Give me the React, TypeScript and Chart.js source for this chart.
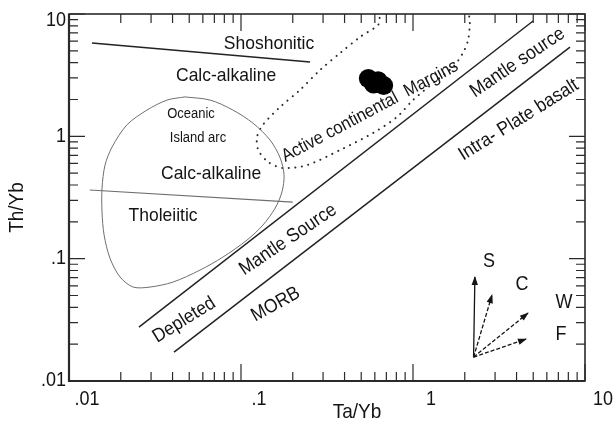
import React, { useEffect, useRef } from 'react';
import { Chart, registerables } from 'chart.js';

Chart.register(...registerables);

// ---- axes ----
const X_TICK_VALUES = [0.01, 0.1, 1, 10];
const X_TICK_LABELS = ['.01', '.1', '1', '10'];
const Y_TICK_VALUES = [0.01, 0.1, 1, 10];
const Y_TICK_LABELS = ['.01', '.1', '1', '10'];
const MINOR_MULTIPLIERS = [2, 3, 4, 5, 6, 7, 8, 9];

// ---- field boundaries (Ta/Yb, Th/Yb) ----
const shoshoniticBoundary = [
  { x: 0.0136, y: 5.79 },
  { x: 0.252, y: 4.05 },
];
const tholeiiticBoundary = [
  { x: 0.0132, y: 0.364 },
  { x: 0.2, y: 0.29 },
];
const oceanicArcField = [
  { x: 0.0472, y: 2.1 },
  { x: 0.0661, y: 1.98 },
  { x: 0.0897, y: 1.64 },
  { x: 0.1175, y: 1.28 },
  { x: 0.1476, y: 0.933 },
  { x: 0.169, y: 0.665 },
  { x: 0.178, y: 0.483 },
  { x: 0.173, y: 0.351 },
  { x: 0.158, y: 0.259 },
  { x: 0.134, y: 0.188 },
  { x: 0.1084, y: 0.142 },
  { x: 0.0785, y: 0.103 },
  { x: 0.0578, y: 0.0807 },
  { x: 0.0403, y: 0.0644 },
  { x: 0.0296, y: 0.0586 },
  { x: 0.0236, y: 0.0586 },
  { x: 0.0198, y: 0.0708 },
  { x: 0.0173, y: 0.101 },
  { x: 0.016, y: 0.156 },
  { x: 0.01556, y: 0.24 },
  { x: 0.01556, y: 0.378 },
  { x: 0.0162, y: 0.582 },
  { x: 0.0178, y: 0.818 },
  { x: 0.0217, y: 1.24 },
  { x: 0.0284, y: 1.64 },
  { x: 0.0372, y: 1.98 },
  { x: 0.0472, y: 2.1 },
];
const activeMarginField = [
  { x: 0.64, y: 9.3 },
  { x: 0.626, y: 8.13 },
  { x: 0.492, y: 6.48 },
  { x: 0.377, y: 4.8 },
  { x: 0.288, y: 3.48 },
  { x: 0.22, y: 2.39 },
  { x: 0.169, y: 1.74 },
  { x: 0.134, y: 1.24 },
  { x: 0.124, y: 0.987 },
  { x: 0.126, y: 0.773 },
  { x: 0.144, y: 0.617 },
  { x: 0.175, y: 0.551 },
  { x: 0.242, y: 0.582 },
  { x: 0.377, y: 0.773 },
  { x: 0.585, y: 1.064 },
  { x: 0.807, y: 1.44 },
  { x: 1.0, y: 1.98 },
  { x: 1.38, y: 2.89 },
  { x: 1.71, y: 3.69 },
  { x: 1.95, y: 4.8 },
  { x: 2.09, y: 6.13 },
  { x: 2.14, y: 8.44 },
  { x: 2.12, y: 9.64 },
];
const mantleArrayUpper = [
  { x: 0.0255, y: 0.0276 },
  { x: 4.99, y: 8.77 },
];
const mantleArrayLower = [
  { x: 0.0408, y: 0.0172 },
  { x: 8.18, y: 5.37 },
];

// ---- samples ----
const sampleTaYb = [0.55, 0.59, 0.627, 0.675];
const sampleThYb = [2.97, 2.68, 2.85, 2.6];

// ---- enrichment vectors ----
const vectorOrigin = { x: 2.25, y: 0.01567 };
const vectorNames = ['S', 'C', 'W', 'F'];
const vectorTipTaYb = [2.29, 2.88, 4.66, 4.54];
const vectorTipThYb = [0.0708, 0.0504, 0.0359, 0.022];
const vectorLabelTaYb = [2.77, 4.3, 7.55, 7.25];
const vectorLabelThYb = [0.0955, 0.062, 0.0442, 0.0242];

// ---- field names ----
const fieldNames = [
  'Shoshonitic',
  'Calc-alkaline',
  'Oceanic',
  'Island arc',
  'Calc-alkaline',
  'Tholeiitic',
  'Active continental  Margins',
  'Mantle source',
  'Intra- Plate basalt',
  'Mantle Source',
  'Depleted',
  'MORB',
];
const fieldNameTaYb = [0.1455, 0.0819, 0.0512, 0.0562, 0.067, 0.0352, 0.562, 4.05, 4.11, 0.1875, 0.0467, 0.159];
const fieldNameThYb = [5.68, 3.11, 1.52, 0.968, 0.492, 0.223, 1.6, 4.01, 1.36, 0.143, 0.0315, 0.0422];
const fieldNameSize = [17.5, 17.5, 13, 13, 17.5, 17.5, 16.5, 17.5, 17.5, 17.5, 17.5, 17.5];
const fieldNameAngle = [0, 0, 0, 0, 0, 0, 28, 34, 32, 34, 32, 29];

const FONT = '"Liberation Sans", Arial, Helvetica, sans-serif';
const INK = '#141414';
const TEXT_STRETCH = 1.1;

const pairs = (xs: number[], ys: number[]) => xs.map((x, i) => ({ x, y: ys[i] }));

// text drawn slightly taller than the face's natural proportions
const drawText = (ctx: CanvasRenderingContext2D, t: string, x: number, y: number, angleDeg = 0) => {
  ctx.save();
  ctx.translate(x, y);
  ctx.rotate((-angleDeg * Math.PI) / 180);
  ctx.scale(1, TEXT_STRETCH);
  ctx.fillText(t, 0, 0);
  ctx.restore();
};

const overlayPlugin = {
  id: 'diagramOverlay',
  afterDatasetsDraw(chart: any) {
    const ctx = chart.ctx;
    chart.data.datasets.forEach((ds: any, i: number) => {
      if (!ds.arrow) return;
      const meta = chart.getDatasetMeta(i);
      const p0 = meta.data[0];
      const p1 = meta.data[1];
      const ang = Math.atan2(p1.y - p0.y, p1.x - p0.x);
      ctx.save();
      ctx.translate(p1.x, p1.y);
      ctx.rotate(ang);
      ctx.beginPath();
      ctx.moveTo(1, 0);
      ctx.lineTo(-8, -3.2);
      ctx.lineTo(-8, 3.2);
      ctx.closePath();
      ctx.fillStyle = INK;
      ctx.fill();
      ctx.restore();
    });
  },
  afterDraw(chart: any) {
    const { ctx, chartArea: a } = chart;
    const xs = chart.scales.x;
    const ys = chart.scales.y;
    ctx.save();

    // frame
    ctx.strokeStyle = '#2a2a2a';
    ctx.lineWidth = 1.6;
    ctx.strokeRect(a.left, a.top, a.right - a.left, a.bottom - a.top);
    ctx.lineWidth = 2.2;
    ctx.beginPath();
    ctx.moveTo(a.left, a.top);
    ctx.lineTo(a.left, a.bottom);
    ctx.lineTo(a.right, a.bottom);
    ctx.stroke();

    // inward ticks on all four sides
    ctx.lineWidth = 1.2;
    const tickSet: { v: number; major: boolean }[] = [];
    X_TICK_VALUES.forEach((d) => {
      tickSet.push({ v: d, major: true });
      MINOR_MULTIPLIERS.forEach((m) => tickSet.push({ v: d * m, major: false }));
    });
    ctx.beginPath();
    tickSet.forEach(({ v, major }) => {
      if (v < xs.min - 1e-9 || v > xs.max + 1e-9) return;
      const px = xs.getPixelForValue(v);
      const len = major ? 17 : 9;
      ctx.moveTo(px, a.bottom);
      ctx.lineTo(px, a.bottom - len);
      ctx.moveTo(px, a.top);
      ctx.lineTo(px, a.top + len);
    });
    tickSet.forEach(({ v, major }) => {
      if (v < ys.min - 1e-9 || v > ys.max + 1e-9) return;
      const py = ys.getPixelForValue(v);
      const len = major ? 16 : 9;
      ctx.moveTo(a.left, py);
      ctx.lineTo(a.left + len, py);
      ctx.moveTo(a.right, py);
      ctx.lineTo(a.right - len, py);
    });
    ctx.stroke();

    // tick labels
    ctx.fillStyle = INK;
    ctx.font = `18px ${FONT}`;
    ctx.textAlign = 'center';
    ctx.textBaseline = 'middle';
    X_TICK_VALUES.forEach((v, i) => {
      drawText(ctx, X_TICK_LABELS[i], xs.getPixelForValue(v) + 18, a.bottom + 19);
    });
    ctx.textAlign = 'right';
    Y_TICK_VALUES.forEach((v, i) => {
      const py = Math.max(ys.getPixelForValue(v), a.top + 7);
      drawText(ctx, Y_TICK_LABELS[i], a.left - 3, py);
    });

    // axis titles
    ctx.font = `19px ${FONT}`;
    ctx.textAlign = 'center';
    drawText(ctx, 'Ta/Yb', (a.left + a.right) / 2 + 30, a.bottom + 31);
    ctx.save();
    ctx.translate(17, (a.top + a.bottom) / 2 + 10);
    ctx.rotate(-Math.PI / 2);
    ctx.scale(1, TEXT_STRETCH);
    ctx.fillText('Th/Yb', 0, 0);
    ctx.restore();

    // field names
    fieldNames.forEach((t, i) => {
      ctx.font = `${fieldNameSize[i]}px ${FONT}`;
      drawText(
        ctx,
        t,
        xs.getPixelForValue(fieldNameTaYb[i]),
        ys.getPixelForValue(fieldNameThYb[i]),
        fieldNameAngle[i]
      );
    });

    // vector names
    ctx.font = `18px ${FONT}`;
    vectorNames.forEach((t, i) => {
      drawText(ctx, t, xs.getPixelForValue(vectorLabelTaYb[i]), ys.getPixelForValue(vectorLabelThYb[i]));
    });

    ctx.restore();
  },
};

const lineDs = (data: { x: number; y: number }[], color: string, width: number, extra: any = {}) => ({
  data,
  showLine: true,
  borderColor: color,
  borderWidth: width,
  pointRadius: 0,
  fill: false,
  ...extra,
});

export default function App() {
  const canvasRef = useRef<HTMLCanvasElement | null>(null);

  useEffect(() => {
    if (!canvasRef.current) return;
    const vectorDatasets = vectorNames.map((_, i) =>
      lineDs(
        [vectorOrigin, { x: vectorTipTaYb[i], y: vectorTipThYb[i] }],
        INK,
        1.3,
        { arrow: true, borderDash: i === 0 ? [] : [4, 2] }
      )
    );
    const chart = new Chart(canvasRef.current, {
      type: 'scatter',
      data: {
        datasets: [
          lineDs(oceanicArcField, '#6e6e6e', 1, { tension: 0.3 }),
          lineDs(tholeiiticBoundary, '#6e6e6e', 1.1),
          lineDs(shoshoniticBoundary, '#222', 1.5),
          lineDs(activeMarginField, '#2a2a2a', 2, {
            borderDash: [0.1, 6.5],
            tension: 0.3,
            borderCapStyle: 'round',
          }),
          lineDs(mantleArrayUpper, '#222', 1.5),
          lineDs(mantleArrayLower, '#222', 1.5),
          ...vectorDatasets,
          {
            data: pairs(sampleTaYb, sampleThYb),
            pointRadius: 9.5,
            pointBackgroundColor: '#000',
            pointBorderWidth: 0,
            showLine: false,
          },
        ] as any,
      },
      options: {
        responsive: false,
        animation: false,
        devicePixelRatio: 1,
        layout: { padding: { left: 0, right: 30, top: 14, bottom: 0 } },
        plugins: { legend: { display: false }, tooltip: { enabled: false } },
        scales: {
          x: {
            type: 'logarithmic',
            min: 0.01,
            max: 10,
            grid: { display: false },
            border: { display: false },
            ticks: { display: false },
            afterFit: (s: any) => {
              s.height = 47;
            },
          },
          y: {
            type: 'logarithmic',
            min: 0.01,
            max: 10,
            grid: { display: false },
            border: { display: false },
            ticks: { display: false },
            afterFit: (s: any) => {
              s.width = 69;
            },
          },
        },
      } as any,
      plugins: [overlayPlugin],
    });
    return () => chart.destroy();
  }, []);

  return (
    <div style={{ position: 'fixed', left: 0, top: 0, width: 615, height: 428, background: '#fff' }}>
      <canvas ref={canvasRef} width={615} height={428} style={{ display: 'block' }} />
    </div>
  );
}
